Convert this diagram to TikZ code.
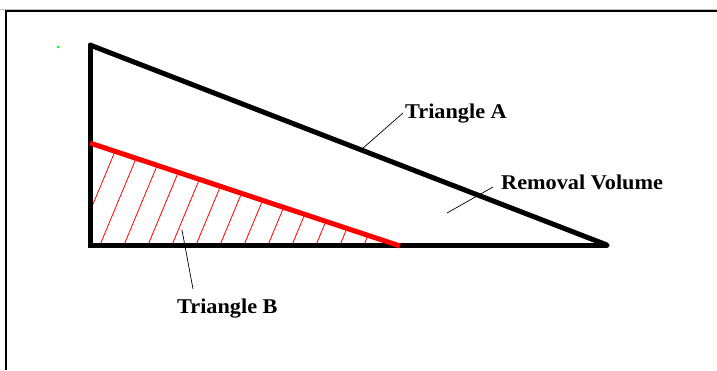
\documentclass[tikz,border=0pt]{standalone}
\usepackage{fontspec}
\setmainfont{Liberation Serif}
\newfontfamily\lblfont[FakeStretch=1.06]{Liberation Serif}
\begin{document}
\begin{tikzpicture}[x=1pt,y=-1pt,
  thick line/.style={line width=5pt},
  hatch/.style={red,line width=0.8pt},
  leader/.style={black,line width=0.7pt},
  lbl/.style={font=\lblfont\fontsize{21}{23}\selectfont\bfseries,inner sep=0pt,anchor=west}]
\useasboundingbox (0,0) rectangle (717,370);
\fill[white] (0,0) rectangle (717,370);
% frame
\draw[black!25,line width=0.8pt] (0,9) -- (717,9);
\draw[black,line width=2.2pt] (6,370) -- (6,11) -- (717,11);
% green dot
\fill[green] (58,47) circle (1.3pt);
% vertices
\coordinate (T) at (90,45);
\coordinate (O) at (90,245);
\coordinate (R) at (607,245);
\coordinate (Bt) at (90,143);
\coordinate (Br) at (400,246);
% hatching of triangle B
\begin{scope}
\clip (Bt) -- (Br) -- (O) -- cycle;
\foreach \i in {0,...,13} {
  \draw[hatch] (76+24*\i,245) -- ++(50,-120);
}
\end{scope}
% triangle A
\draw[thick line,line cap=round,line join=miter] (T) -- (O) -- (R);
\draw[thick line] (T) -- (R);
% triangle B top edge
\draw[red,thick line] (Bt) -- (Br);
% labels
\node[lbl] (tA) at (405,114) {Triangle A};
\node[lbl] (rV) at (501,182) {Removal Volume};
\node[lbl] (tB) at (177,309) {Triangle B};
% leaders
\coordinate (a1) at (362,149);
\coordinate (a2) at (403,113);
\coordinate (r1) at (447,213);
\coordinate (r2) at (493,187);
\coordinate (b1) at (182,230);
\coordinate (b2) at (193,289);
\draw[leader] (a1) -- (a2);
\draw[leader] (r1) -- (r2);
\draw[leader] (b1) -- (b2);
\end{tikzpicture}
\end{document}
